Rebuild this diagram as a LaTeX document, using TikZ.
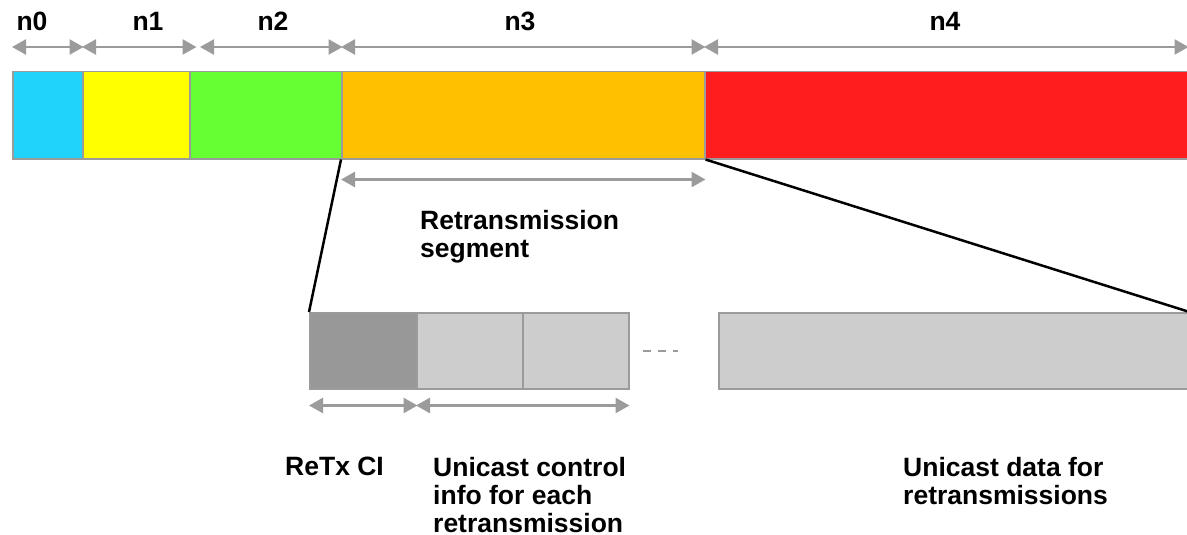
\documentclass[tikz,border=0pt]{standalone}
\usepackage{fontspec}
\setmainfont{Liberation Sans}
\usetikzlibrary{arrows.meta}
\definecolor{segcyan}{RGB}{31,211,250}
\definecolor{segyellow}{RGB}{255,255,0}
\definecolor{seggreen}{RGB}{102,255,51}
\definecolor{segorange}{RGB}{255,192,0}
\definecolor{segred}{RGB}{255,30,30}
\definecolor{segline}{RGB}{155,155,155}
\definecolor{cigray}{RGB}{152,152,152}
\definecolor{dotgray}{RGB}{205,205,205}
\begin{document}
\begin{tikzpicture}[x=1pt,y=-1pt,
  seg/.style={draw=segline,line width=1.5pt,inner sep=0pt,anchor=north west,minimum height=87pt},
  sub/.style={draw=segline,line width=1.5pt,inner sep=0pt,anchor=north west,minimum height=76pt},
  dim/.style={draw=segline,line width=2.5pt,{Triangle[length=14pt,width=15pt]}-{Triangle[length=14pt,width=15pt]}},
  lbl/.style={font=\fontsize{26.5}{28}\selectfont\bfseries,inner sep=0pt}]
\useasboundingbox (0,0) rectangle (1187,535);

\node[seg,fill=segcyan,minimum width=70pt] (s0) at (12,71) {};
\node[seg,fill=segyellow,minimum width=107pt] (s1) at (82,71) {};
\node[seg,fill=seggreen,minimum width=152pt] (s2) at (189,71) {};
\node[seg,fill=segorange,minimum width=363pt] (s3) at (341,71) {};
\node[seg,fill=segred,minimum width=483pt] (s4) at (704,71) {};

\node[sub,fill=cigray,minimum width=107pt] (ci) at (309,312) {};
\node[sub,fill=dotgray,minimum width=106pt] (u1) at (416,312) {};
\node[sub,fill=dotgray,minimum width=106pt] (u2) at (522,312) {};
\node[sub,fill=dotgray,minimum width=470pt] (data) at (718,312) {};

\node[lbl] (l0) at (32,21) {n0};
\node[lbl] (l1) at (148,21) {n1};
\node[lbl] (l2) at (273,21) {n2};
\node[lbl] (l3) at (520,21) {n3};
\node[lbl] (l4) at (945,21) {n4};
\node[lbl,align=left,anchor=north west] (rseg) at (420,210) {Retransmission\\segment};
\node[lbl,anchor=north west] (cilbl) at (285,457) {ReTx CI};
\node[lbl,align=left,anchor=north west] (ulbl) at (433,457) {Unicast control\\info for each\\retransmission};
\node[lbl,align=left,anchor=north west] (dlbl) at (903,457) {Unicast data for\\retransmissions};

\path[dim] ([yshift=24pt]s0.north west) -- ([yshift=24pt]s0.north east);
\path[dim] ([yshift=24pt]s1.north west) -- ([yshift=24pt,xshift=6pt]s1.north east);
\path[dim] ([yshift=24pt,xshift=11pt]s2.north west) -- ([yshift=24pt]s2.north east);
\path[dim] ([yshift=24pt]s3.north west) -- ([yshift=24pt]s3.north east);
\path[dim] ([yshift=24pt]s4.north west) -- ([yshift=24pt]s4.north east);
\path[dim] ([yshift=-20pt]s3.south west) -- ([yshift=-20pt]s3.south east);
\path[dim] ([yshift=-16pt]ci.south west) -- ([yshift=-16pt]ci.south east);
\path[dim] ([yshift=-16pt]u1.south west) -- ([yshift=-16pt]u2.south east);

\draw[segline,line width=1.5pt,dash pattern=on 8pt off 7pt,shorten <=13pt,shorten >=40pt] (u2) -- (data);
\draw[line width=2.5pt] (s3.south west) -- (ci.north west);
\draw[line width=2.5pt] (s3.south east) -- (data.north east);
\end{tikzpicture}
\end{document}
